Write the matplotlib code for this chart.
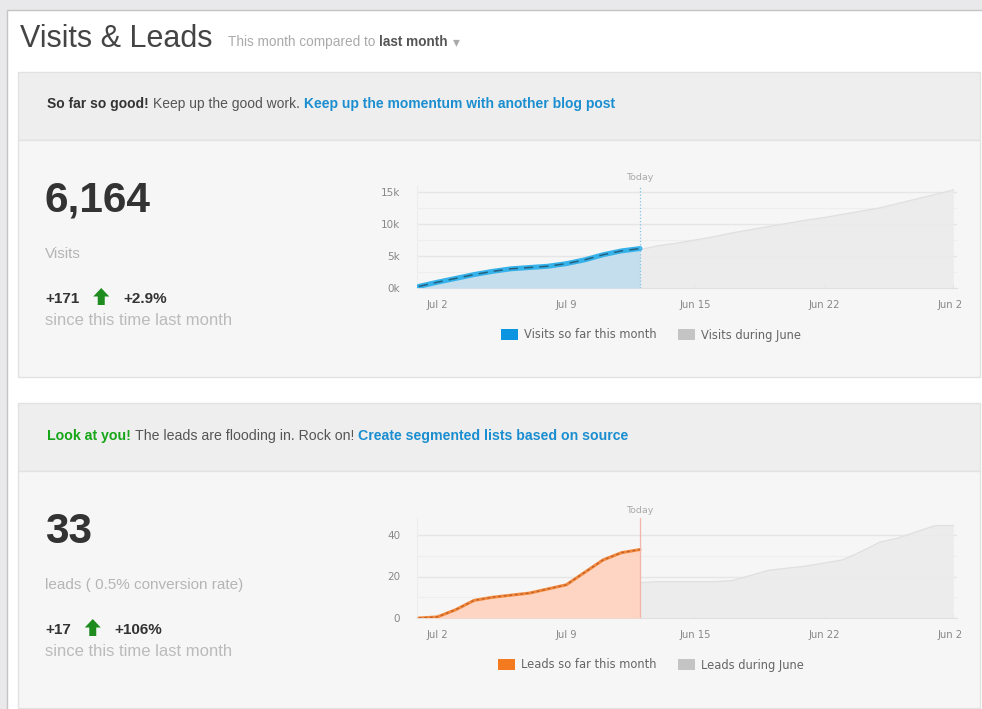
import matplotlib
matplotlib.use("Agg")
import matplotlib.pyplot as plt
from matplotlib.patches import Rectangle, Polygon, Patch
from matplotlib.transforms import Bbox, TransformedBbox

plt.rcParams['font.family'] = ['Liberation Sans', 'DejaVu Sans']

# data
days_now = [1, 2, 3, 4, 5, 6, 7, 8, 9, 10, 11, 12, 13]
visits_now = [250, 900, 1500, 2100, 2600, 3000, 3200, 3400, 3800, 4400, 5200, 5800, 6164]
leads_now = [0, 0.5, 4, 8.5, 10, 11, 12, 14, 16, 22, 28, 31.5, 33]

june_days = [13, 14, 15, 16, 17, 18, 19, 20, 21, 22, 23, 24, 25, 26, 27, 28, 29, 30]
june_visits = [6000, 6600, 7000, 7500, 8000, 8600, 9100, 9600, 10100, 10600,
               11000, 11500, 12000, 12500, 13200, 13900, 14600, 15300]
june_leads = [17, 17.5, 17.5, 17.5, 17.5, 18, 20.5, 23, 24, 25,
              26.5, 28, 32, 36.5, 38.5, 41.5, 44.5, 44.5]

today = 13
tick_days = [2, 9, 16, 23, 30]
tick_labels = ["Jul 2", "Jul 9", "Jun 15", "Jun 22", "Jun 29"]

visit_ticks = [0, 5000, 10000, 15000]
visit_tick_labels = ["0k", "5k", "10k", "15k"]
lead_ticks = [0, 20, 40]

W, H = 982, 709
fig = plt.figure(figsize=(W / 100, H / 100), dpi=100)
fig.patch.set_facecolor('#e9e9eb')

bg = fig.add_axes([0, 0, 1, 1])
bg.set_xlim(0, W)
bg.set_ylim(H, 0)
bg.axis('off')
renderer = fig.canvas.get_renderer()


def box(x0, y0, x1, y1, fc, ec):
    bg.add_patch(Rectangle((x0, y0), x1 - x0, y1 - y0, facecolor=fc, edgecolor=ec, lw=1))


def text_run(x, y, parts, size):
    # parts: (text, weight, color, gap after in px)
    for s, weight, color, gap in parts:
        t = bg.text(x, y, s, fontsize=size, fontweight=weight, color=color,
                    va='baseline', ha='left')
        x += t.get_window_extent(renderer).width + gap
    return x


def up_arrow(x, ybot, color='#1e8c1e'):
    pts = [(x + 8, ybot - 17), (x, ybot - 8.5), (x + 4.5, ybot - 8.5), (x + 4.5, ybot),
           (x + 11.5, ybot), (x + 11.5, ybot - 8.5), (x + 16, ybot - 8.5)]
    bg.add_patch(Polygon(pts, closed=True, facecolor=color, edgecolor='none'))


# page frame
box(7, 10, W + 5, H + 5, 'white', '#c4c4c4')
bg.text(20, 47, "Visits & Leads", fontsize=22, color='#444444', va='baseline')
text_run(228, 46, [("This month compared to", 'normal', '#aaaaaa', 4),
                   ("last month", 'bold', '#555555', 5),
                   ("\u25be", 'normal', '#aaaaaa', 0)], 9.8)

# panels
for off in [0, 331]:
    box(18, 72 + off, 980, 140 + off, '#eeeeee', '#e2e2e2')
    box(18, 140 + off, 980, 377 + off, '#f6f6f6', '#e2e2e2')

text_run(47, 108, [("So far so good!", 'bold', '#333333', 4),
                   ("Keep up the good work.", 'normal', '#555555', 4),
                   ("Keep up the momentum with another blog post", 'bold', '#1a8ed0', 0)], 10)
text_run(47, 440, [("Look at you!", 'bold', '#17a617', 4),
                   ("The leads are flooding in. Rock on!", 'normal', '#555555', 4),
                   ("Create segmented lists based on source", 'bold', '#1a8ed0', 0)], 10.2)

# left-hand stats
stats = [("6,164", "Visits", "+171", "+2.9%", 0),
         ("33", "leads ( 0.5% conversion rate)", "+17", "+106%", 331)]
for big, label, delta, pct, off in stats:
    bg.text(45, 212 + off, big, fontsize=30.5, fontweight='bold', color='#333333', va='baseline')
    bg.text(45, 258 + off, label, fontsize=11, color='#b5b5b5', va='baseline')
    x = text_run(45, 303 + off, [(delta, 'bold', '#333333', 14)], 11)
    up_arrow(x, 305 + off)
    text_run(x + 30, 303 + off, [(pct, 'bold', '#333333', 0)], 11)
    bg.text(45, 325 + off, "since this time last month", fontsize=12, color='#bbbbbb', va='baseline')


def make_chart(top_px, bottom_px, ymax, now_vals, june_vals, line_c, line_w, dash_c, dash_w,
               dash_pat, fill_c, today_c, today_ls, legend_c, legend_names):
    height = bottom_px - top_px
    ax = fig.add_axes([417 / W, (H - bottom_px) / H, 540 / W, height / H])
    ax.set_facecolor('none')
    ax.set_xlim(0.9, 30.2)
    ax.set_ylim(0, ymax)
    ax.fill_between(june_days, june_vals, color='#ebebeb', alpha=0.85, lw=0, zorder=2)
    ax.plot(june_days, june_vals, color='#e0e0e0', lw=1, zorder=2)
    ax.fill_between(days_now, now_vals, color=fill_c, lw=0, zorder=3)
    ax.plot(days_now, now_vals, color=line_c, lw=line_w, zorder=4, solid_capstyle='round')
    ax.plot(days_now, now_vals, color=dash_c, lw=dash_w, dashes=dash_pat, zorder=5)
    ax.axvline(today, color=today_c, lw=0.9, ls=today_ls, zorder=6)
    ax.text(today, 1.075, "Today", transform=ax.get_xaxis_transform(), ha='center',
            va='center', fontsize=6.8, color='#aaaaaa', family='DejaVu Sans')
    ax.grid(axis='y', which='major', color='#e6e6e6', lw=1, zorder=0)
    ax.grid(axis='y', which='minor', color='#eeeeee', lw=0.8, zorder=0)
    ax.set_axisbelow(True)
    for s in ['top', 'right']:
        ax.spines[s].set_visible(False)
    ax.spines['left'].set_color('#ededed')
    ax.spines['bottom'].set_color('#e0e0e0')
    ax.set_xticks(tick_days)
    ax.set_xticklabels(tick_labels)
    ax.tick_params(axis='x', length=3, direction='in', color='#d8d8d8', pad=9,
                   labelsize=7.2, labelcolor='#888888')
    ax.tick_params(axis='y', which='both', length=0, pad=12, labelsize=7.5, labelcolor='#888888')
    for lab in ax.get_xticklabels() + ax.get_yticklabels():
        lab.set_family('DejaVu Sans')
    last = ax.get_xticklabels()[-1]
    last.set_clip_box(TransformedBbox(Bbox.from_extents(0, 0, 962 / W, 1), fig.transFigure))
    last.set_clip_on(True)
    handles = [Patch(facecolor=legend_c, edgecolor='none'),
               Patch(facecolor='#c4c4c4', edgecolor='none')]
    ax.legend(handles, legend_names, loc='center', bbox_to_anchor=(0.433, -47 / height),
              ncol=2, frameon=False, labelcolor='#666666',
              handlelength=1.5, handleheight=1.15, handletextpad=0.55, columnspacing=1.8,
              prop={'family': 'DejaVu Sans', 'size': 8.3})
    return ax


ax1 = make_chart(185.6, 288, 16000, visits_now, june_visits, '#35b2ea', 3.6, '#24607e', 1.1,
                 (6, 4), '#c4deee', '#7cc4ea', ':', '#0b95e0',
                 ["Visits so far this month", "Visits during June"])
ax1.set_yticks(visit_ticks)
ax1.set_yticklabels(visit_tick_labels, family='DejaVu Sans')
ax1.set_yticks([2500, 7500, 12500], minor=True)

ax2 = make_chart(518.4, 618, 48, leads_now, june_leads, '#f28a3e', 2.2, '#c25f28', 1.0,
                 (2, 2), '#fdd5c2', '#f3b4a8', '-', '#f47a20',
                 ["Leads so far this month", "Leads during June"])
ax2.set_yticks(lead_ticks)
ax2.set_yticklabels([str(v) for v in lead_ticks], family='DejaVu Sans')
ax2.set_yticks([10, 30], minor=True)
ax2.tick_params(axis='y', which='minor', labelleft=False)
ax1.tick_params(axis='y', which='minor', labelleft=False)

fig.savefig("out.png", dpi=100, facecolor=fig.get_facecolor())
